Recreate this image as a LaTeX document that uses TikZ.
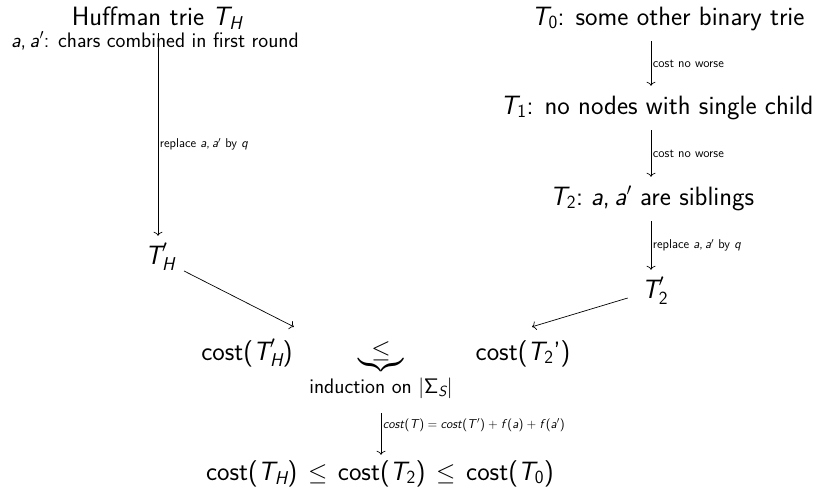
\documentclass[tikz,border=0pt]{standalone}
\usepackage{amstext}
\usepackage{exscale}
\renewcommand{\familydefault}{\sfdefault}
\usetikzlibrary{arrows.meta,calc}
\newcommand{\vs}[1]{\textsl{#1}}
\newcommand{\apair}{\vs{a},\kern.17em\vs{a}$'$}
\newcommand{\rs}{\kern.25em}
\tikzset{
  big/.style={font=\sffamily\fontsize{26.5}{31}\selectfont, inner xsep=0pt, inner ysep=8pt,
    text height=20pt, text depth=8pt, anchor=base},
  mid/.style={font=\sffamily\fontsize{21}{25}\selectfont, inner sep=0pt, anchor=base},
  tiny/.style={font=\sffamily\fontsize{12.8}{15}\selectfont, inner sep=1.5pt},
  arr/.style={-{To[length=4pt,width=9pt]}, line width=0.7pt},
}
\begin{document}
\begin{tikzpicture}[x=1pt,y=-1pt]
\useasboundingbox (0,0) rectangle (818,493);
\coordinate (colL) at (158,0);
\coordinate (colR) at (651,0);
\coordinate (colM) at (381,0);
% left column
\node[big] (TH) at (157,25) {Huffman trie $\vs{T}_{\vs{H}}$};
\node[mid] (THa) at (155,47) {\apair: chars combined in first round};
\node[big] (THp) at (160,264) {$\vs{T}'_{\vs{H}}$};
% right column
\node[big] (T0) at (668,25) {$\vs{T}_{\textup{0}}$: some other binary trie};
\node[big] (T1) at (657,114) {$\vs{T}_{\textup{1}}$: no nodes with single child};
\node[big] (T2) at (652,205) {$\vs{T}_{\textup{2}}$:\kern.3em \apair\ are siblings};
\node[big] (T2p) at (655,298) {$\vs{T}'_{\textup{2}}$};
% middle
\node[big] (cTHp) at (247,360) {cost($\vs{T}'_{\vs{H}}$)};
\node[big] (cT2p) at (523,360) {cost($\vs{T}_{\textup{2}}$')};
\node[big, inner ysep=0pt, text height=, text depth=] (leq) at (381,357) {$\underbrace{\mkern9mu\leq\mkern9mu}$};
\node[mid] (ind) at (381,393) {induction on $|\textup{Σ}_{\vs{S}}|$};
\node[big] (fin) at (380,480) {cost($\vs{T}_{\vs{H}}$)\kern.4em$\leq$\kern.4em cost($\vs{T}_{\textup{2}}$)\kern.4em$\leq$\kern.4em cost($\vs{T}_{\textup{0}}$)};
% arrows
\draw[arr, shorten <=-8pt] (TH.south -| colL) -- (THp.north -| colL) node[tiny, right, pos=0.53] {replace \apair\ by \vs{q}};
\draw[arr] (T0.south -| colR) -- (T1.north -| colR) node[tiny, right, midway] {cost no worse};
\draw[arr] (T1.south -| colR) -- (T2.north -| colR) node[tiny, right, midway] {cost no worse};
\draw[arr] (T2.south -| colR) -- (T2p.north -| colR) node[tiny, right, midway] {replace \apair\ by \vs{q}};
\draw[arr] ($(THp.east)+(9,13)$) -- ($(cTHp.north east)+(1,-5)$);
\draw[arr] ($(T2p.west)+(-14,6)$) -- ($(cT2p.north)+(9,-5)$);
\draw[arr, shorten <=15pt, shorten >=-3pt] (ind.south -| colM) -- (fin.north -| colM) node[tiny, right, midway] {\vs{cost}(\vs{T})\rs=\rs\vs{cost}(\vs{T}$'$)\rs+\rs\vs{f}(\vs{a})\rs+\rs\vs{f}(\vs{a}$'$)};
\end{tikzpicture}
\end{document}
